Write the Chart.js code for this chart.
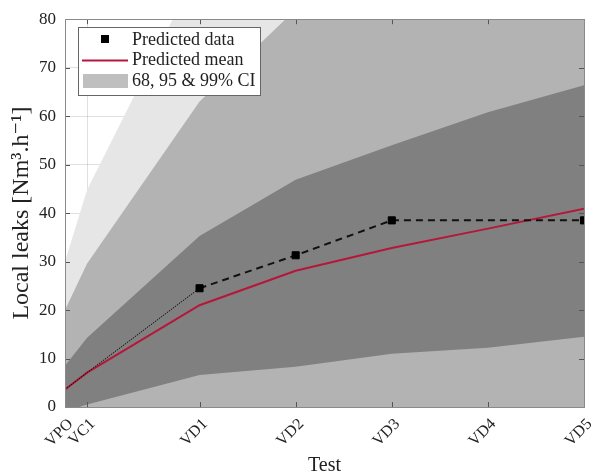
<!DOCTYPE html>
<html>
<head>
<meta charset="utf-8">
<script src="https://cdn.jsdelivr.net/npm/chart.js@4.4.1/dist/chart.umd.min.js"></script>
<style>
  html, body { margin: 0; padding: 0; background: #fff; }
  #wrap { width: 592px; height: 476px; }
</style>
</head>
<body>
<div id="wrap"><canvas id="chart" width="592" height="476"></canvas></div>
<script>
// tests and where they sit on the x axis
const tests = ['VPO', 'VC1', 'VD1', 'VD2', 'VD3', 'VD4', 'VD5'];
const testPos = [0, 0.23, 1.4, 2.4, 3.4, 4.4, 5.4];
const yTicks = [0, 10, 20, 30, 40, 50, 60, 70, 80];

// values (Nm3/h)
const predictedData = [3.6, 7.1, 24.5, 31.3, 38.5, null, 38.5];
const predictedMean = [3.6, 7.1, 21.0, 28.1, 32.8, 36.8, 40.9];
const ci68Upper = [8.5, 14.3, 35.3, 46.9, 54.0, 60.8, 66.4];
const ci68Lower = [-0.9, 0.5, 6.6, 8.3, 11.0, 12.2, 14.5];
const ci95Upper = [20.0, 29.6, 63.0, 82.0, 95.0, 105.0, 112.0];
const ci95Lower = [-6, -9, -12, -10, -8, -9, -8];
const ci99Upper = [30.0, 44.8, 91.0, 110.0, 122.0, 132.0, 140.0];
const ci99Lower = [-15, -20, -25, -24, -22, -23, -22];

const SERIF = '"Liberation Serif", "DejaVu Serif", serif';
const TXT = '#222';

const pts = arr => arr.map((v, i) => ({ x: testPos[i], y: v }));

function band(values, color, order, fillTo) {
    return {
        data: pts(values),
        order: order,
        fill: fillTo === undefined ? false : fillTo,
        backgroundColor: color,
        borderColor: 'rgba(0,0,0,0)',
        borderWidth: 0,
        pointRadius: 0,
        tension: 0
    };
}

// axes box, inward ticks, rotated test labels and the legend
const decorations = {
    id: 'decorations',
    afterDraw(chart) {
        const { ctx, chartArea: a, scales: { x, y } } = chart;
        ctx.save();
        ctx.strokeStyle = '#555';
        ctx.lineWidth = 1;
        ctx.beginPath();
        testPos.forEach(v => {
            const px = Math.round(x.getPixelForValue(v)) + 0.5;
            ctx.moveTo(px, a.bottom); ctx.lineTo(px, a.bottom - 5);
            ctx.moveTo(px, a.top); ctx.lineTo(px, a.top + 5);
        });
        yTicks.forEach(v => {
            const py = Math.round(y.getPixelForValue(v)) + 0.5;
            ctx.moveTo(a.left, py); ctx.lineTo(a.left + 5, py);
            ctx.moveTo(a.right, py); ctx.lineTo(a.right - 5, py);
        });
        ctx.stroke();
        ctx.strokeStyle = '#8a8a8a';
        ctx.strokeRect(Math.round(a.left) + 0.5, Math.round(a.top) + 0.5,
            Math.round(a.right - a.left), Math.round(a.bottom - a.top));

        // x tick labels, 45 degrees
        ctx.fillStyle = TXT;
        ctx.font = '16px ' + SERIF;
        ctx.textAlign = 'right';
        ctx.textBaseline = 'top';
        testPos.forEach((v, i) => {
            ctx.save();
            ctx.translate(x.getPixelForValue(v), a.bottom + 9);
            ctx.rotate(-Math.PI / 4);
            ctx.fillText(tests[i], 0, 0);
            ctx.restore();
        });

        // legend
        const lx = 78, ly = 27, lw = 182, lh = 68;
        ctx.fillStyle = '#fff';
        ctx.fillRect(lx, ly, lw, lh);
        ctx.strokeStyle = '#666';
        ctx.strokeRect(lx + 0.5, ly + 0.5, lw, lh);
        ctx.fillStyle = '#000';
        ctx.fillRect(101, 35, 8, 8);
        ctx.strokeStyle = '#b5173b';
        ctx.lineWidth = 2;
        ctx.beginPath();
        ctx.moveTo(82, 60.5); ctx.lineTo(128, 60.5);
        ctx.stroke();
        ctx.fillStyle = '#bfbfbf';
        ctx.fillRect(83, 74, 45, 14);
        ctx.fillStyle = TXT;
        ctx.font = '18px ' + SERIF;
        ctx.textAlign = 'left';
        ctx.textBaseline = 'middle';
        ctx.fillText('Predicted data', 132, 40);
        ctx.fillText('Predicted mean', 132, 60);
        ctx.fillText('68, 95 & 99% CI', 132, 81);
        ctx.restore();
    }
};

new Chart(document.getElementById('chart').getContext('2d'), {
    type: 'line',
    data: {
        datasets: [
            {
                data: pts(predictedData),
                order: 1,
                borderColor: '#111',
                backgroundColor: '#000',
                spanGaps: true,
                fill: false,
                tension: 0,
                pointStyle: 'rect',
                pointRadius: [0, 0, 5, 5, 5, 0, 5],
                pointBorderWidth: 1,
                pointBackgroundColor: '#000',
                pointBorderColor: '#000',
                segment: {
                    borderDash: c => c.p0DataIndex < 2 ? [1.5, 1] : [7, 5],
                    borderWidth: c => c.p0DataIndex < 2 ? 1 : 2
                }
            },
            {
                data: pts(predictedMean),
                order: 2,
                borderColor: '#b5173b',
                borderWidth: 2,
                pointRadius: 0,
                fill: false,
                tension: 0
            },
            band(ci68Upper, '#808080', 3, 3),
            band(ci68Lower, 'rgba(0,0,0,0)', 3),
            band(ci95Upper, '#b3b3b3', 4, 5),
            band(ci95Lower, 'rgba(0,0,0,0)', 4),
            band(ci99Upper, '#e6e6e6', 5, 7),
            band(ci99Lower, 'rgba(0,0,0,0)', 5)
        ]
    },
    options: {
        responsive: false,
        animation: false,
        events: [],
        layout: { padding: { top: 14, right: 8, left: 0, bottom: 0 } },
        plugins: {
            legend: { display: false },
            tooltip: { enabled: false }
        },
        scales: {
            x: {
                type: 'linear',
                min: 0,
                max: 5.4,
                z: 1,
                afterBuildTicks: s => { s.ticks = testPos.map(v => ({ value: v })); },
                afterFit: s => { s.height = 69; s.paddingLeft = 0; s.paddingRight = 0; },
                grid: { color: 'rgba(0,0,0,0.12)', drawTicks: false },
                border: { display: false },
                ticks: { display: false },
                title: {
                    display: true,
                    text: 'Test',
                    color: TXT,
                    font: { family: SERIF, size: 20, lineHeight: 1 },
                    padding: { top: 0, bottom: 0 }
                }
            },
            y: {
                min: 0,
                max: 80,
                z: 1,
                afterBuildTicks: s => { s.ticks = yTicks.map(v => ({ value: v })); },
                afterFit: s => { s.width = 65; },
                grid: { color: 'rgba(0,0,0,0.12)', drawTicks: false },
                border: { display: false },
                ticks: {
                    padding: 9,
                    color: TXT,
                    font: { family: SERIF, size: 17 }
                },
                title: {
                    display: true,
                    text: 'Local leaks [Nm³.h⁻¹]',
                    color: TXT,
                    font: { family: SERIF, size: 24 },
                    padding: { top: 7, bottom: 0 }
                }
            }
        }
    },
    plugins: [decorations]
});
</script>
</body>
</html>
